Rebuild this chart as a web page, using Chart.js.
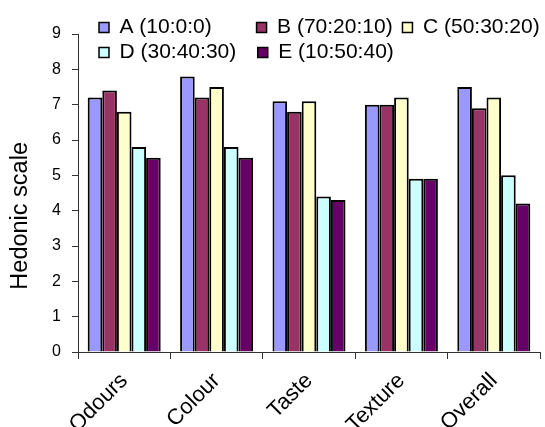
<!DOCTYPE html>
<html><head><meta charset="utf-8">
<script src="https://cdn.jsdelivr.net/npm/chart.js@4/dist/chart.umd.min.js"></script>
<style>html,body{margin:0;padding:0;background:#fff;}canvas{display:block;}</style>
</head><body>
<canvas id="c" width="545" height="427"></canvas>
<script>
const categories = ['Odours', 'Colour', 'Taste', 'Texture', 'Overall'];
const seriesNames = ['A (10:0:0)', 'B (70:20:10)', 'C (50:30:20)', 'D (30:40:30)', 'E (10:50:40)'];
const seriesA = [7.2, 7.8, 7.1, 7.0, 7.5];
const seriesB = [7.4, 7.2, 6.8, 7.0, 6.9];
const seriesC = [6.8, 7.5, 7.1, 7.2, 7.2];
const seriesD = [5.8, 5.8, 4.4, 4.9, 5.0];
const seriesE = [5.5, 5.5, 4.3, 4.9, 4.2];
const seriesColors = ['#9999FF', '#993366', '#FFFFCC', '#CCFFFF', '#660066'];
const yTickValues = [0, 1, 2, 3, 4, 5, 6, 7, 8, 9];
const yTitle = 'Hedonic scale';
const legendTrail = ['       ', ' ', '', '   ', ''];
const titleTrail = '       ';

const FONT = "'Liberation Sans', Arial, sans-serif";
const allSeries = [seriesA, seriesB, seriesC, seriesD, seriesE];

const legendPlace = {
  id: 'legendPlace',
  afterLayout(chart) {
    const lg = chart.legend;
    if (!lg) return;
    lg.left = 95;
    lg.top = 13;
    lg.right = 597;
    lg.bottom = 80;
    lg.width = lg.right - lg.left;
    lg.height = lg.bottom - lg.top;
  }
};

new Chart(document.getElementById('c'), {
  type: 'bar',
  data: {
    labels: categories,
    datasets: allSeries.map((vals, i) => ({
      label: seriesNames[i],
      data: vals,
      backgroundColor: seriesColors[i],
      borderColor: '#000000',
      borderWidth: 2,
      categoryPercentage: 0.79,
      barPercentage: 1.0
    }))
  },
  options: {
    responsive: false,
    animation: false,
    layout: { padding: { top: 33, right: 5, left: 0, bottom: 0 } },
    plugins: {
      tooltip: { enabled: false },
      legend: {
        position: 'top',
        align: 'start',
        maxHeight: 1,
        labels: {
          boxWidth: 10,
          boxHeight: 10,
          padding: 4,
          color: '#000',
          font: { family: FONT, size: 21 },
          generateLabels(chart) {
            const items = Chart.defaults.plugins.legend.labels.generateLabels(chart);
            items.forEach((it, i) => { it.text = it.text + legendTrail[i]; it.lineWidth = 1.5; });
            return items;
          }
        }
      }
    },
    scales: {
      x: {
        offset: true,
        grid: { offset: true, drawOnChartArea: false, drawTicks: true, tickLength: 7, color: '#333' },
        border: { color: '#333', width: 1 },
        ticks: {
          color: '#000',
          font: { family: FONT, size: 22 },
          minRotation: 45,
          maxRotation: 45,
          autoSkip: false,
          padding: 9
        },
        afterFit(scale) { scale.height = 75; }
      },
      y: {
        min: 0,
        max: 9,
        afterBuildTicks(scale) { scale.ticks = yTickValues.map(v => ({ value: v })); },
        grid: { drawOnChartArea: false, drawTicks: true, tickLength: 6, color: '#333' },
        border: { color: '#333', width: 1 },
        ticks: { color: '#000', font: { family: FONT, size: 16 }, padding: 11 },
        title: {
          display: true,
          text: yTitle + titleTrail,
          color: '#000',
          font: { family: FONT, size: 23.5 },
          padding: { top: 6, bottom: 4 }
        },
        afterFit(scale) { scale.width = 78; }
      }
    }
  },
  plugins: [legendPlace]
});
</script>
</body></html>
